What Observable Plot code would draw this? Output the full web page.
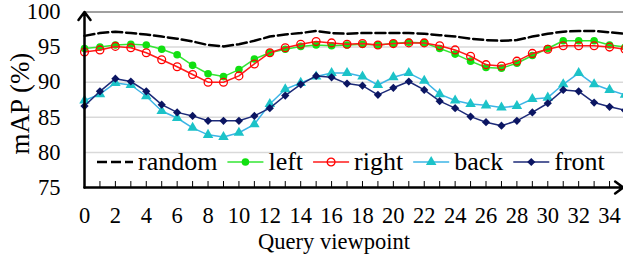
<!DOCTYPE html>
<html><head><meta charset="utf-8">
<script src="https://cdn.jsdelivr.net/npm/d3@7"></script>
<script src="https://cdn.jsdelivr.net/npm/@observablehq/plot@0.6"></script>
<style>
html,body{margin:0;padding:0;background:#fff;}
#chart{position:relative;width:623px;height:258px;overflow:hidden;}
</style></head><body><div id="chart"></div>
<script>
const viewpoints = [0,1,2,3,4,5,6,7,8,9,10,11,12,13,14,15,16,17,18,19,20,21,22,23,24,25,26,27,28,29,30,31,32,33,34,35];
const xTickLabels = [0,2,4,6,8,10,12,14,16,18,20,22,24,26,28,30,32,34];
const yTickLabels = [75,80,85,90,95,100];
const yGrid = [80,85,90,95];

const random = [96.6,97.0,97.2,97.0,96.8,96.5,96.2,95.8,95.3,95.1,95.4,95.9,96.5,96.8,97.0,97.3,97.0,96.9,97.0,97.0,97.0,97.0,96.9,96.7,96.5,96.2,96.0,95.9,96.0,96.5,96.9,97.2,97.3,97.3,97.1,96.9];
const left = [94.8,95.0,95.3,95.4,95.3,94.7,93.9,92.4,91.2,90.8,91.8,93.3,94.2,94.7,95.1,95.3,95.2,95.3,95.4,95.3,95.5,95.7,95.6,94.8,94.0,93.0,92.1,92.0,92.7,93.8,94.8,95.9,95.9,95.9,95.3,95.0];
const right = [94.3,94.6,95.1,94.9,94.2,93.2,92.2,91.1,90.0,90.0,90.9,92.6,94.2,94.9,95.4,95.8,95.6,95.4,95.5,95.3,95.5,95.6,95.6,95.2,94.6,93.7,92.5,92.3,93.0,94.1,94.7,95.2,95.2,95.2,95.0,94.7];
const back = [87.4,88.3,89.9,89.6,88.0,85.9,84.9,83.5,82.5,82.2,82.8,84.0,86.9,89.0,89.9,90.8,91.3,91.3,90.8,89.6,90.7,91.3,90.2,88.3,87.4,86.9,86.7,86.4,86.6,87.6,87.8,89.7,91.3,89.7,88.9,88.2];
const front = [86.6,88.7,90.5,90.1,88.7,86.8,85.7,85.2,84.5,84.5,84.5,85.2,86.3,88.1,89.7,90.9,90.7,89.8,89.5,88.2,89.2,90.1,88.9,87.3,86.3,85.1,84.3,83.8,84.5,85.7,87.0,88.9,88.7,87.1,86.5,86.0];

const series = [
  {name:"random", values:random, line:"#000000", width:2.5, dash:"10,4", symbol:null},
  {name:"left",   values:left,   line:"#33e633", width:1.5, symbol:"circle",   fill:"#11e011", stroke:"none", r:3.8},
  {name:"right",  values:right,  line:"#ff1a1a", width:1.5, symbol:"circle",   fill:"none",    stroke:"#ff0000", r:3.9},
  {name:"back",   values:back,   line:"#3cb4e6", width:1.5, symbol:"triangle", fill:"#1cc3c8", stroke:"none", r:3.9},
  {name:"front",  values:front,  line:"#1c2a78", width:1.5, symbol:"diamond2", fill:"#0b1562", stroke:"none", r:3.7}
];

const xDomain = [0, 35];
const yDomain = [75, 100];

const seriesMarks = series.flatMap(s => {
  const rows = s.values.map((v, i) => ({x: viewpoints[i], y: v}));
  const m = [Plot.line(rows, {x:"x", y:"y", stroke:s.line, strokeWidth:s.width, strokeDasharray:s.dash})];
  if (s.symbol) m.push(Plot.dot(rows, {x:"x", y:"y", symbol:s.symbol, fill:s.fill, stroke:s.stroke, strokeWidth:1.3, r:s.r}));
  return m;
});

const plot = Plot.plot({
  width: 623, height: 258,
  marginLeft: 84, marginRight: 0, marginTop: 11, marginBottom: 71,
  x: {domain: xDomain, range: [84, 624.5]},
  y: {domain: yDomain, range: [187, 11.5]},
  style: {fontFamily: "Liberation Serif", background: "white", color: "#000"},
  marks: [
    Plot.ruleY(yGrid, {stroke:"#d9d9d9", strokeWidth:1.5}),
    Plot.ruleY([yDomain[1]], {stroke:"#808080", strokeWidth:1.5}),
    ...seriesMarks,
    Plot.ruleX(viewpoints, {y1: yDomain[0], y2: yDomain[0] + 0.85, stroke:"#000", strokeWidth:1}),
    Plot.arrow([{x1:xDomain[0], y1:yDomain[0], x2:xDomain[0], y2:yDomain[1]}], {x1:"x1", y1:"y1", x2:"x2", y2:"y2", stroke:"#000", strokeWidth:2.5, headLength:6, headAngle:74}),
    Plot.arrow([{x1:xDomain[0], y1:yDomain[0], x2:34.88, y2:yDomain[0]}], {x1:"x1", y1:"y1", x2:"x2", y2:"y2", stroke:"#000", strokeWidth:2.5, headLength:6, headAngle:74}),
    Plot.axisX(xTickLabels, {tickSize:0, tickPadding:20, fontSize:22.5, label:null}),
    Plot.axisY(yTickLabels, {tickSize:0, tickPadding:24, fontSize:22.5, label:null}),
    Plot.text(["mAP (%)"], {text: d => d, frameAnchor:"left", textAnchor:"middle", lineAnchor:"middle", rotate:-90, dx:-64, dy:4, fontSize:27}),
    Plot.text(["Query viewpoint"], {text: d => d, frameAnchor:"bottom", textAnchor:"middle", lineAnchor:"middle", dx:-20, dy:54, fontSize:22.5})
  ]
});
document.getElementById("chart").appendChild(plot);

// legend (inside plot area, one row)
const symMap = {circle: d3.symbolCircle, triangle: d3.symbolTriangle, diamond2: d3.symbolDiamond2};
const lg = d3.select(plot).append("g")
  .attr("style","font-family:'Liberation Serif';font-size:26px;text-anchor:start")
  .attr("fill","#000");
let cx = 97;
const ly = 162, tb = 170;
for (const s of series) {
  const g = lg.append("g");
  g.append("line").attr("x1",cx).attr("x2",cx+36).attr("y1",ly).attr("y2",ly)
    .attr("stroke",s.line).attr("stroke-width",s.width).attr("stroke-dasharray",s.dash||null);
  if (s.symbol) {
    g.append("path").attr("d", d3.symbol(symMap[s.symbol], Math.PI*s.r*s.r)())
      .attr("transform",`translate(${cx+18},${ly})`)
      .attr("fill",s.fill).attr("stroke",s.stroke).attr("stroke-width",1.3);
  }
  const t = g.append("text").attr("x",cx+41).attr("y",tb).attr("text-anchor","start").text(s.name);
  cx = cx + 41 + t.node().getComputedTextLength() + 10;
}
</script></body></html>
